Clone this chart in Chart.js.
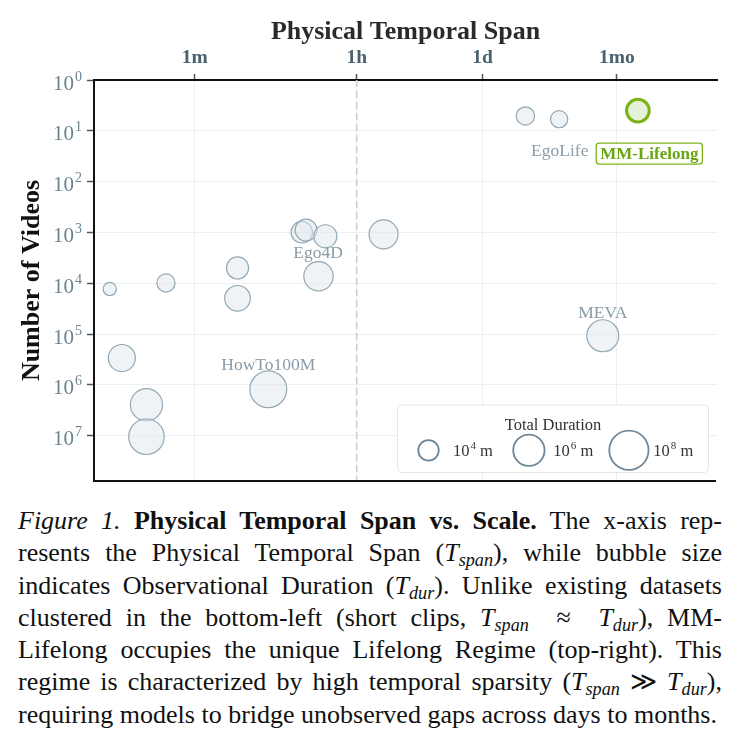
<!DOCTYPE html>
<html lang="en">
<head>
<meta charset="UTF-8">
<title>Physical Temporal Span vs. Scale</title>
<script src="https://cdn.jsdelivr.net/npm/chart.js"></script>
<style>
  body { margin: 0; background: #fff; }
  .chart-box { position: relative; width: 739px; height: 490px; }
  .caption {
    position: absolute; left: 18px; top: 505px; width: 704px;
    font-family: "Liberation Serif", "Times New Roman", serif;
    font-size: 26px; line-height: 32.3px; color: #111;
  }
  .caption div { text-align: justify; text-align-last: justify; }
  .caption div.last { text-align-last: left; }
  .caption sub { font-size: 0.7em; vertical-align: -0.3em; line-height: 0; font-style: italic; }
</style>
</head>
<body>
<div class="chart-box"><canvas id="spanChart"></canvas></div>
<div class="caption">
  <div><i>Figure 1.</i> <b>Physical Temporal Span vs. Scale.</b> The x-axis rep-</div>
  <div>resents the Physical Temporal Span (<i>T</i><sub>span</sub>), while bubble size</div>
  <div>indicates Observational Duration (<i>T</i><sub>dur</sub>). Unlike existing datasets</div>
  <div>clustered in the bottom-left (short clips, <i>T</i><sub>span</sub> &nbsp;&asymp;&nbsp; <i>T</i><sub>dur</sub>), MM-</div>
  <div>Lifelong occupies the unique Lifelong Regime (top-right). This</div>
  <div>regime is characterized by high temporal sparsity (<i>T</i><sub>span</sub> &Gt; <i>T</i><sub>dur</sub>),</div>
  <div class="last">requiring models to bridge unobserved gaps across days to months.</div>
</div>

<script>
// existing datasets: physical span (seconds), number of videos, total duration (minutes)
const spanSec = [7.0, 29, 177, 177, 900, 1000, 1630, 1370, 7100, 9.5, 17.7, 17.7, 385, 256000, 601000, 1810000];
const videoCount = [13000, 9900, 5000, 19800, 990, 900, 1190, 7300, 1090, 296000, 2460000, 10500000, 1220000, 5.1, 5.9, 108000];
const durationMin = [1330, 4700, 17500, 70000, 14000, 16000, 25000, 380000, 320000, 128000, 1550000, 10000000, 22700000, 5000, 3600, 1400000];

// ours
const oursSpanSec = [4400000];
const oursCount = [4];
const oursDurationMin = [21700];

// named bubbles (index into the arrays above)
const labelNames = ['EgoLife', 'Ego4D', 'MEVA', 'HowTo100M'];
const labelAnchor = [14, 7, 15, 12];

const xTickValues = [60, 3600, 86400, 2592000];
const xTickLabels = ['1m', '1h', '1d', '1mo'];
const yTickExponents = [0, 1, 2, 3, 4, 5, 6, 7];
const legendExponents = [4, 6, 8];
const dividerSec = 3600;

const SERIF = '"Liberation Serif", "Times New Roman", serif';

// bubble radius in px from total duration (minutes)
function bubbleRadius(minutes) {
    return Math.sqrt(70 * (Math.log10(minutes) - 2.5));
}

function font(size, weight) {
    return (weight || 'normal') + ' ' + size + 'px ' + SERIF;
}

// draws "10" with a raised exponent and an optional tail
function drawPower(ctx, x, y, exp, tail, baseSize, expSize, rise) {
    ctx.font = font(baseSize);
    ctx.textBaseline = 'alphabetic';
    ctx.textAlign = 'left';
    ctx.fillText('10', x, y);
    const w = ctx.measureText('10').width;
    ctx.font = font(expSize);
    ctx.fillText(String(exp), x + w + 1, y - rise);
    if (tail) {
        const we = ctx.measureText(String(exp)).width;
        ctx.font = font(baseSize);
        ctx.fillText(tail, x + w + 1 + we, y);
    }
}

// pixel offsets of the bubble labels from their anchor bubble
const labelOffsets = [[0.6, 32.4], [-0.5, -23], [0, -22.4], [0, -24.3]];

const overlay = {
    id: 'overlay',
    beforeDatasetsDraw(chart) {
        const {ctx, chartArea: a, scales: {x}} = chart;
        const px = x.getPixelForValue(dividerSec);
        ctx.save();
        ctx.strokeStyle = '#c6d0d8';
        ctx.lineWidth = 1.6;
        ctx.setLineDash([7, 4]);
        ctx.beginPath();
        ctx.moveTo(px, a.top);
        ctx.lineTo(px, a.bottom);
        ctx.stroke();
        ctx.restore();
    },
    afterDatasetsDraw(chart) {
        const {ctx, chartArea: a, scales: {x, y}} = chart;
        ctx.save();

        // bottom spine
        ctx.strokeStyle = '#111';
        ctx.lineWidth = 2;
        ctx.beginPath();
        ctx.moveTo(a.left, a.bottom);
        ctx.lineTo(a.right - 1, a.bottom);
        ctx.stroke();

        // y tick labels 10^k
        ctx.fillStyle = '#6a8391';
        yTickExponents.forEach(e => {
            const py = y.getPixelForValue(Math.pow(10, e));
            ctx.font = font(21);
            const w = ctx.measureText('10').width;
            drawPower(ctx, 74 - w, py + 9.5, e, '', 21, 14, 9);
        });

        // bubble labels
        ctx.font = font(17.5);
        ctx.fillStyle = '#8a9ca8';
        ctx.textAlign = 'center';
        ctx.textBaseline = 'middle';
        labelNames.forEach((name, i) => {
            const k = labelAnchor[i];
            const px = x.getPixelForValue(spanSec[k]) + labelOffsets[i][0];
            const py = y.getPixelForValue(videoCount[k]) + labelOffsets[i][1];
            ctx.fillText(name, px, py);
        });

        // MM-Lifelong tag
        const ox = x.getPixelForValue(oursSpanSec[0]) + 11.4;
        const oy = y.getPixelForValue(oursCount[0]) + 43;
        ctx.font = font(17, 'bold');
        const tw = ctx.measureText('MM-Lifelong').width;
        ctx.beginPath();
        ctx.roundRect(ox - tw / 2 - 4, oy - 10.5, tw + 8, 21, 3);
        ctx.fillStyle = 'rgba(255,255,255,0.9)';
        ctx.fill();
        ctx.strokeStyle = '#7ab317';
        ctx.lineWidth = 1.3;
        ctx.stroke();
        ctx.fillStyle = '#6aa512';
        ctx.textAlign = 'center';
        ctx.fillText('MM-Lifelong', ox, oy + 1);

        // size legend
        const bx = a.right - 319.5, by = a.bottom - 76, bw = 311, bh = 67.5;
        ctx.beginPath();
        ctx.roundRect(bx, by, bw, bh, 4);
        ctx.fillStyle = '#fff';
        ctx.fill();
        ctx.strokeStyle = '#e3e7ea';
        ctx.lineWidth = 1;
        ctx.stroke();
        ctx.fillStyle = '#333';
        ctx.font = font(16.5);
        ctx.textAlign = 'center';
        ctx.textBaseline = 'middle';
        ctx.fillText('Total Duration', bx + bw / 2, by + 21);
        const cxs = [bx + 31, bx + 131.4, bx + 231.4];
        const cy = by + 45.3;
        legendExponents.forEach((e, i) => {
            ctx.beginPath();
            ctx.arc(cxs[i], cy, bubbleRadius(Math.pow(10, e)), 0, Math.PI * 2);
            ctx.strokeStyle = '#6f8796';
            ctx.lineWidth = 1.8;
            ctx.stroke();
            ctx.fillStyle = '#333';
            drawPower(ctx, cxs[i] + 24.4, cy + 5.4, e, ' m', 16.5, 11, 7);
        });
        ctx.restore();
    }
};

const existingData = spanSec.map((s, i) => ({x: s, y: videoCount[i], r: bubbleRadius(durationMin[i])}));
const oursData = oursSpanSec.map((s, i) => ({x: s, y: oursCount[i], r: bubbleRadius(oursDurationMin[i])}));

const gridStyle = {color: '#edf0f2', lineWidth: 1, tickColor: '#4a5660', tickWidth: 1.5};

new Chart(document.getElementById('spanChart'), {
    type: 'bubble',
    data: {
        datasets: [{
            label: 'Existing datasets',
            data: existingData,
            backgroundColor: 'rgba(226,233,238,0.55)',
            borderColor: 'rgba(136,158,172,0.9)',
            borderWidth: 1.2
        }, {
            label: 'MM-Lifelong',
            data: oursData,
            backgroundColor: 'rgba(224,240,208,0.85)',
            borderColor: '#7ab317',
            borderWidth: 3
        }]
    },
    options: {
        responsive: true,
        maintainAspectRatio: false,
        animation: false,
        layout: {autoPadding: false, padding: {left: 0, right: 22, top: 0, bottom: 9}},
        plugins: {legend: {display: false}, tooltip: {enabled: false}},
        scales: {
            x: {
                type: 'logarithmic',
                position: 'top',
                min: 4.7,
                max: 3.25e7,
                afterBuildTicks: s => { s.ticks = xTickValues.map(v => ({value: v})); },
                afterFit: s => { s.height = 80; },
                ticks: {
                    callback: (v, i) => xTickLabels[i],
                    autoSkip: false,
                    maxRotation: 0,
                    padding: 4,
                    color: '#4b6170',
                    font: {family: SERIF, size: 19.5, weight: 'bold'}
                },
                grid: Object.assign({tickLength: 6}, gridStyle),
                border: {color: '#111', width: 2},
                title: {
                    display: true,
                    text: 'Physical Temporal Span',
                    color: '#2a2a2a',
                    font: {family: SERIF, size: 26, weight: 'bold'},
                    padding: {top: 17, bottom: 0}
                }
            },
            y: {
                type: 'logarithmic',
                reverse: true,
                min: 1,
                max: 7.8e7,
                afterBuildTicks: s => { s.ticks = yTickExponents.map(e => ({value: Math.pow(10, e)})); },
                afterFit: s => { s.width = 94; },
                ticks: {display: false},
                grid: Object.assign({tickLength: 7}, gridStyle),
                border: {color: '#111', width: 2},
                title: {
                    display: true,
                    text: 'Number of Videos',
                    color: '#111',
                    font: {family: SERIF, size: 26, weight: 'bold'},
                    padding: {top: 17, bottom: 0}
                }
            }
        }
    },
    plugins: [overlay]
});
</script>
</body>
</html>
